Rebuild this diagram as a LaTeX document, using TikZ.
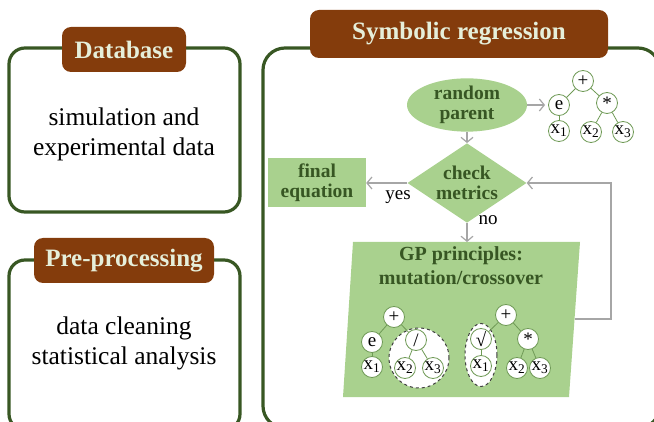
\documentclass[tikz,border=0pt]{standalone}
\usepackage{fontspec}
\setmainfont{Liberation Serif}
\usetikzlibrary{shapes.geometric,arrows.meta}

\definecolor{tabbrown}{HTML}{843C0C}
\definecolor{tabtext}{HTML}{E6EFDA}
\definecolor{framegreen}{HTML}{385723}
\definecolor{leafgreen}{HTML}{A9D18E}
\definecolor{inkgreen}{HTML}{375623}
\definecolor{treegreen}{HTML}{6F9A56}
\definecolor{flowgray}{HTML}{A6A6A6}

\tikzset{
  panel/.style={draw=framegreen, line width=3.2pt, rounded corners=16pt},
  titletab/.style={fill=tabbrown, rounded corners=9pt, text=tabtext, inner sep=0pt,
    minimum height=45pt, font=\fontsize{25}{25}\selectfont\bfseries},
  bodytext/.style={align=center, font=\fontsize{25.5}{30}\selectfont},
  greenbox/.style={fill=leafgreen, text=inkgreen, align=center, inner sep=0pt,
    font=\fontsize{19.5}{20}\selectfont\bfseries},
  flow/.style={draw=flowgray, line width=1.2pt, -{Straight Barb[length=5pt,width=12pt]}},
  flowtext/.style={anchor=base, font=\fontsize{19}{19}\selectfont},
  treenode/.style={circle, draw=treegreen, fill=white, line width=0.8pt,
    minimum size=21pt, inner sep=0pt, font=\fontsize{19}{19}\selectfont},
  branch/.style={draw=treegreen, line width=0.8pt},
  swapzone/.style={draw=black!75, dashed, fill=white, line width=1pt, inner sep=0pt}
}

\begin{document}
\begin{tikzpicture}[x=1pt, y=-1pt]

\path[use as bounding box, clip] (0,0) rectangle (654,422);

% panels with their title tabs
\draw[panel] (9,48) rectangle (240,212);
\draw[panel] (9,260) rectangle (240,430);
\draw[panel, rounded corners=22pt] (263,48) rectangle (660,428);

\node[titletab, minimum width=124pt] (dbtab) at (124,49.5) {Database};
\node[titletab, minimum width=180pt] (pptab) at (124,260.5) {Pre-processing};
\node[titletab, minimum width=298pt, minimum height=48pt] (srtab) at (459,34) {Symbolic regression};

\node[bodytext] (dbtext) at (124,134) {simulation and\\experimental data};
\node[bodytext] (pptext) at (124,343) {data cleaning\\statistical analysis};

% flow chart
\node[greenbox, ellipse, minimum width=120pt, minimum height=46pt] (parent) at (467,105) {random\\parent};
\node[greenbox, diamond, minimum width=119pt, minimum height=65pt, inner sep=-4pt] (check) at (467,183) {check\\metrics};
\node[greenbox, minimum width=98pt, minimum height=49pt] (final) at (317,183) {final\\equation};

\coordinate (gpnw) at (353,242);
\coordinate (gpne) at (580,242);
\coordinate (gpse) at (569,397);
\coordinate (gpsw) at (343,397);
\coordinate (gptop) at (467,242);
\coordinate (gpright) at (574.5,319);
\coordinate (loopturn) at (611,319);
\fill[leafgreen] (gpnw) -- (gpne) -- (gpse) -- (gpsw) -- cycle;
\node[text=inkgreen, align=center, font=\fontsize{20}{24}\selectfont\bfseries] (gptitle) at (461,266) {GP principles:\\mutation/crossover};

% tree of the random parent
\node[treenode] (rpplus) at (583,81) {+};
\node[treenode] (rpe) at (559,105) {e};
\node[treenode] (rpmul) at (607,103) {*};
\node[treenode] (rpxa) at (559,131) {x\textsubscript{1}};
\node[treenode] (rpxb) at (591,132) {x\textsubscript{2}};
\node[treenode] (rpxc) at (623,132) {x\textsubscript{3}};

% offspring trees
\node[swapzone, circle, minimum size=60pt] (cutleft) at (419,358) {};
\node[swapzone, ellipse, minimum width=32pt, minimum height=63pt] (cutright) at (481,355) {};

\node[treenode] (lplus) at (394,317) {+};
\node[treenode] (le) at (372,342) {e};
\node[treenode] (lxa) at (372,367) {x\textsubscript{1}};
\node[treenode] (lslash) at (416,340) {/};
\node[treenode] (lxb) at (405,368) {x\textsubscript{2}};
\node[treenode] (lxc) at (433,368) {x\textsubscript{3}};

\node[treenode] (rplus) at (506,315) {+};
\node[treenode] (rroot) at (481,339) {√};
\node[treenode] (rxa) at (481,366) {x\textsubscript{1}};
\node[treenode] (rmul) at (528,339) {*};
\node[treenode] (rxb) at (517,368) {x\textsubscript{2}};
\node[treenode] (rxc) at (540,368) {x\textsubscript{3}};

\foreach \a/\b in {rpplus/rpe, rpplus/rpmul, rpe/rpxa, rpmul/rpxb, rpmul/rpxc,
                   lplus/le, lplus/lslash, le/lxa, lslash/lxb, lslash/lxc,
                   rplus/rroot, rplus/rmul, rroot/rxa, rmul/rxb, rmul/rxc}
  \draw[branch] (\a) -- (\b);

% connectors
\draw[flow] (parent.east) -- ([xshift=-3pt]rpe.west);
\draw[flow] (parent) -- (check);
\draw[flow] (check.west) -- (final.east);
\draw[flow] (check.south) -- (gptop);
\draw[flow] (gpright) -- (loopturn) |- (check.east);

\node[flowtext] (yes) at (398,200) {yes};
\node[flowtext] (no) at (488,225) {no};

\end{tikzpicture}
\end{document}
